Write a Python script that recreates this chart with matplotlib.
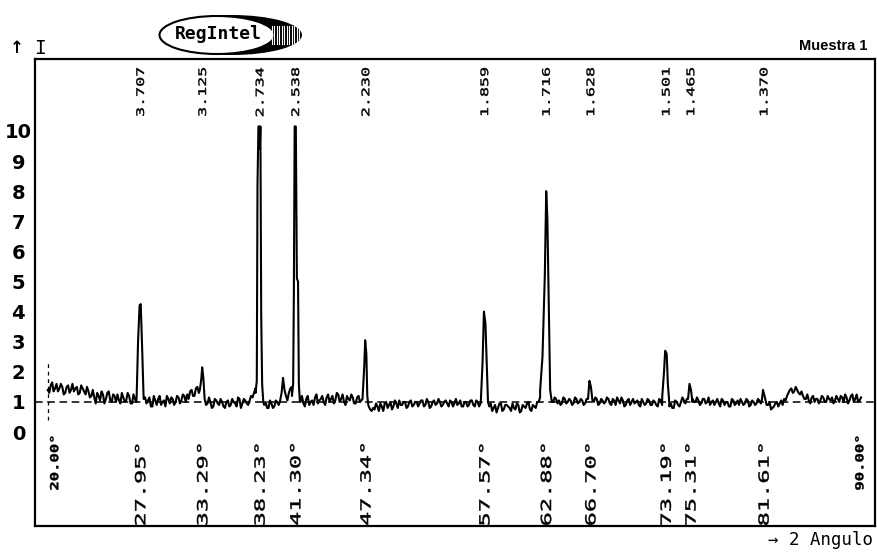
import numpy as np
import matplotlib
matplotlib.use('Agg')
import matplotlib.pyplot as plt
from matplotlib.patches import Ellipse, PathPatch
from matplotlib.textpath import TextPath
from matplotlib.font_manager import FontProperties
from matplotlib.transforms import Affine2D, ScaledTranslation

# background intensity, one value every 0.25 deg from 20 to 90
bg_start = 20.0
bg_step = 0.25
background = [
    1.40, 1.55, 1.35, 1.60, 1.45, 1.50, 1.30, 1.55, 1.40, 1.35, 1.50, 1.30, 1.45, 1.25, 1.35, 1.20,
    1.15, 1.30, 1.05, 1.25, 1.10, 1.35, 1.00, 1.20, 1.25, 0.95, 1.15, 1.05, 1.20, 0.95, 1.10, 1.20,
    1.10, 1.00, 0.95, 1.15, 0.85, 1.05, 1.10, 0.90, 1.05, 1.20, 0.95, 1.10, 1.00, 1.15, 1.05, 1.20,
    1.25, 1.35, 1.20, 1.45, 1.30, 1.55, 1.10, 0.95, 1.00, 0.85, 1.05, 0.90, 1.00, 0.80, 1.05, 0.90,
    1.00, 0.85, 1.10, 0.95, 1.05, 0.90, 1.20, 1.30, 1.50, 1.00, 1.00, 1.00, 0.80, 0.95, 0.85, 1.00,
    1.05, 1.80, 1.20, 1.30, 1.50, 1.00, 1.00, 1.00, 0.95, 1.10, 0.90, 1.05, 1.15, 0.95, 1.10, 1.00,
    1.15, 1.00, 1.20, 1.05, 1.25, 1.10, 1.00, 1.20, 1.05, 1.15, 0.95, 1.20, 1.05, 1.00, 1.00, 0.75,
    0.80, 0.95, 0.70, 0.85, 0.95, 0.80, 1.00, 0.85, 0.95, 1.05, 0.90, 1.00, 0.85, 1.05, 0.90, 1.00,
    0.95, 1.05, 0.90, 1.00, 0.85, 1.05, 0.95, 1.00, 0.90, 1.05, 0.85, 1.00, 0.95, 0.90, 1.05, 0.85,
    1.00, 0.90, 1.05, 0.85, 1.00, 0.95, 1.00, 1.00, 0.85, 0.70, 0.90, 0.80, 0.95, 0.75, 0.90, 0.80,
    0.95, 0.75, 0.90, 0.70, 0.85, 0.95, 0.75, 0.90, 0.80, 1.00, 1.20, 1.30, 1.00, 1.00, 1.00, 1.10,
    1.05, 0.95, 1.10, 1.00, 1.05, 0.95, 1.10, 1.00, 1.05, 0.95, 1.20, 1.00, 1.00, 1.10, 0.95, 1.05,
    1.00, 1.10, 0.90, 1.05, 1.15, 0.95, 1.05, 0.90, 1.10, 1.00, 0.95, 1.05, 0.85, 1.00, 0.95, 1.05,
    0.90, 1.00, 0.85, 1.05, 1.00, 1.00, 0.85, 0.80, 1.05, 0.90, 1.00, 1.05, 1.10, 1.00, 1.10, 1.00,
    1.05, 0.95, 1.10, 1.00, 0.90, 1.05, 1.00, 0.95, 1.10, 0.90, 1.00, 0.85, 1.05, 0.95, 0.90, 1.00,
    0.95, 1.05, 0.90, 1.00, 0.95, 1.05, 1.00, 1.00, 0.90, 0.75, 0.85, 1.00, 0.95, 0.90, 1.05, 1.30,
    1.45, 1.35, 1.40, 1.25, 1.20, 1.10, 1.05, 1.15, 1.00, 1.10, 1.05, 1.15, 1.00, 1.10, 1.15, 1.05,
    1.10, 1.20, 1.00, 1.15, 1.05, 1.25, 1.10, 1.00, 1.15,
]
# in-between readings (20.125, 20.375, ... 89.875) that give the noise its spikes
background_mid = [
    1.30, 1.65, 1.45, 1.35, 1.60, 1.25, 1.50, 1.30, 1.60, 1.45, 1.25, 1.55, 1.35, 1.50, 1.15, 1.40,
    0.95, 1.20, 1.35, 0.95, 1.30, 1.05, 1.25, 1.00, 1.05, 1.30, 1.00, 1.30, 0.95, 1.25, 1.00, 1.00,
    0.95, 1.15, 1.05, 0.85, 1.20, 0.90, 1.20, 1.00, 0.85, 1.10, 1.15, 0.90, 1.20, 0.95, 1.25, 1.00,
    1.10, 1.40, 1.20, 1.50, 1.30, 1.40, 0.90, 1.15, 0.80, 1.10, 0.95, 1.10, 0.85, 1.00, 0.85, 1.10,
    0.95, 1.15, 0.80, 1.10, 0.95, 1.05, 1.15, 1.45, 1.00, 1.00, 0.90, 0.80, 1.05, 0.80, 1.05, 0.90,
    1.30, 1.40, 1.05, 1.45, 1.00, 1.00, 1.00, 1.20, 0.85, 1.20, 1.00, 0.90, 1.25, 1.05, 1.20, 0.90,
    1.25, 1.10, 0.95, 1.30, 1.00, 1.25, 0.90, 1.10, 1.25, 0.95, 1.15, 1.00, 1.00, 1.00, 0.85, 0.70,
    0.75, 0.85, 0.95, 0.70, 1.00, 0.90, 0.75, 1.05, 0.80, 0.90, 1.00, 0.80, 1.00, 0.85, 1.00, 0.85,
    1.05, 0.85, 1.10, 0.80, 1.00, 0.90, 1.10, 0.85, 1.00, 0.95, 1.05, 0.85, 1.10, 0.95, 0.85, 1.00,
    0.85, 1.05, 0.90, 1.05, 0.85, 1.10, 1.00, 1.00, 0.95, 0.80, 0.65, 0.95, 0.70, 0.90, 0.85, 0.70,
    0.80, 0.95, 0.65, 0.90, 0.80, 1.00, 0.70, 0.85, 1.00, 1.15, 1.00, 1.00, 1.00, 1.00, 1.15, 0.95,
    0.90, 1.15, 0.95, 1.10, 0.90, 1.15, 0.95, 1.10, 0.90, 1.10, 1.00, 0.95, 1.15, 0.90, 1.10, 0.95,
    1.15, 0.95, 1.10, 0.90, 1.05, 1.15, 0.85, 1.05, 0.90, 1.10, 1.00, 0.90, 1.10, 0.90, 1.10, 0.90,
    1.05, 0.90, 1.10, 0.90, 1.00, 1.00, 0.95, 0.80, 1.00, 0.85, 1.15, 0.95, 1.15, 1.00, 1.00, 1.15,
    0.90, 1.10, 0.95, 1.15, 1.00, 0.90, 1.10, 0.85, 1.05, 1.00, 0.85, 1.10, 0.90, 1.05, 1.10, 0.90,
    1.10, 0.85, 1.05, 0.90, 1.10, 0.95, 1.00, 0.90, 1.00, 0.80, 0.95, 0.85, 1.05, 1.10, 1.20, 1.40,
    1.30, 1.50, 1.30, 1.35, 1.10, 1.25, 0.95, 1.20, 1.10, 0.95, 1.20, 1.00, 1.20, 1.05, 0.95, 1.20,
    1.00, 1.15, 1.25, 0.95, 1.20, 1.00, 1.25, 1.05,
]

# labelled peaks: 2-theta, d-spacing and the profile (offset in deg, intensity)
peak_angles = [27.95, 33.29, 38.23, 41.30, 47.34, 57.57, 62.88, 66.70, 73.19, 75.31, 81.61]
d_spacings = ['3.707', '3.125', '2.734', '2.538', '2.230', '1.859',
              '1.716', '1.628', '1.501', '1.465', '1.370']
peak_profiles = [
    [(-0.30, 1.20), (-0.18, 3.00), (-0.05, 4.20), (0.05, 4.25), (0.18, 2.70), (0.30, 1.10)],
    [(-0.20, 1.40), (-0.08, 1.75), (0.00, 2.15), (0.10, 1.80), (0.20, 1.20)],
    [(-0.35, 1.30), (-0.24, 1.70), (-0.18, 8.20), (-0.10, 10.15), (-0.03, 10.15), (0.02, 9.40),
     (0.07, 10.15), (0.14, 3.90), (0.22, 1.60), (0.32, 1.00)],
    [(-0.28, 1.20), (-0.18, 1.60), (-0.12, 4.60), (-0.05, 10.15), (0.05, 10.15), (0.14, 5.10),
     (0.24, 5.00), (0.31, 1.60), (0.40, 1.00)],
    [(-0.25, 1.10), (-0.10, 2.20), (-0.02, 3.05), (0.08, 2.60), (0.16, 1.20), (0.25, 0.90)],
    [(-0.30, 1.00), (-0.15, 2.30), (-0.03, 4.00), (0.10, 3.60), (0.20, 2.40), (0.32, 1.00)],
    [(-0.50, 1.40), (-0.30, 2.50), (-0.10, 5.20), (0.02, 8.00), (0.12, 7.10), (0.24, 4.20),
     (0.36, 1.40), (0.50, 1.00)],
    [(-0.20, 1.10), (-0.08, 1.70), (0.05, 1.50), (0.18, 1.05)],
    [(-0.30, 1.20), (-0.15, 2.00), (-0.05, 2.70), (0.08, 2.60), (0.18, 1.60), (0.30, 1.00)],
    [(-0.20, 1.10), (-0.08, 1.60), (0.05, 1.40), (0.18, 1.00)],
    [(-0.15, 1.05), (-0.05, 1.40), (0.08, 1.20), (0.20, 1.00)],
]
range_labels = ['20.00°', '90.00°']
range_label_pos = [20.55, 89.85]
y_ticks = list(range(11))

fig = plt.figure(figsize=(8.78, 5.52), dpi=100)
ax = fig.add_axes([35 / 878, 1 - 526 / 552, 840 / 878, 467 / 552])
ax.set_xlim(18.9, 91.2)
ax.set_ylim(-3.12, 12.39)

# build the trace: background points outside the peaks + peak profile points
angles = np.concatenate([bg_start + bg_step * np.arange(len(background)),
                         bg_start + bg_step * (np.arange(len(background_mid)) + 0.5)])
bg = np.array(background + background_mid)
keep = np.ones(len(angles), dtype=bool)
px, py = [], []
for c, prof in zip(peak_angles, peak_profiles):
    offs = [p[0] for p in prof]
    keep &= ~((angles >= c + offs[0]) & (angles <= c + offs[-1]))
    px += [c + o for o in offs]
    py += [p[1] for p in prof]
xs = np.concatenate([angles[keep], px])
ys = np.concatenate([bg[keep], py])
order = np.argsort(xs)
ax.plot(xs[order], ys[order], color='black', lw=1.5)

ax.axhline(1, color='black', lw=1.1, dashes=(5, 3))
ax.plot([20, 20], [0.4, 2.3], color='black', lw=0.9, dashes=(3, 3))

for s in ax.spines.values():
    s.set_linewidth(1.6)
    s.set_color('black')
ax.set_xticks([])

ax.set_yticks(y_ticks)
ax.set_yticklabels([str(v) for v in y_ticks],
                   fontdict=dict(family='DejaVu Sans', size=14, weight='bold'))
ax.tick_params(axis='y', length=0, pad=12)
for lbl in ax.get_yticklabels():
    lbl.set_horizontalalignment('center')


def vtext(x, y, s, size, stretch, top=True, weight='normal'):
    # vertical text read bottom-to-top, stretched along its reading direction
    tp = TextPath((0, 0), s, size=size,
                  prop=FontProperties(family='DejaVu Sans Mono', weight=weight))
    ext = tp.get_extents()
    u0 = ext.x1 if top else ext.x0
    vc = (ext.y0 + ext.y1) / 2
    k = fig.dpi / 72
    tr = (Affine2D().translate(-u0, -vc).scale(k * stretch, k).rotate_deg(90)
          + ScaledTranslation(x, y, ax.transData))
    fig.add_artist(PathPatch(tp, transform=tr, facecolor='black',
                             edgecolor='black', lw=0.3))


for a, d in zip(peak_angles, d_spacings):
    vtext(a, 12.09, d, 7.5, 1.6, top=True)
    vtext(a, -3.08, f'{a:.2f}°', 10, 1.7, top=False)
for a, s in zip(range_label_pos, range_labels):
    vtext(a, -0.15, s, 8, 1.4, top=True, weight='bold')

# overlay in pixel coordinates for the header and logo
ov = fig.add_axes([0, 0, 1, 1])
ov.set_xlim(0, 878)
ov.set_ylim(552, 0)
ov.axis('off')

shade = Ellipse((232, 35), 140, 40, facecolor='black', edgecolor='none')
ov.add_patch(shade)
for sx in np.arange(272, 302, 2.5):
    ln, = ov.plot([sx, sx], [26, 44], color='white', lw=0.8)
    ln.set_clip_path(shade)
ov.add_patch(Ellipse((217, 35), 115, 38, facecolor='white', edgecolor='black', lw=1.5))
ov.text(218, 34, 'RegIntel', family='DejaVu Sans Mono', fontsize=13, weight='bold',
        ha='center', va='center')

ov.text(17, 48, '↑', family='DejaVu Sans', fontsize=12, weight='bold', ha='center', va='center')
ov.text(40, 48, 'I', family='DejaVu Sans Mono', fontsize=14, ha='center', va='center')
ov.text(867, 46, 'Muestra 1', family='Liberation Sans', fontsize=10.5, weight='bold',
        ha='right', va='center')
ov.text(873, 540, '→ 2 Angulo', family='DejaVu Sans Mono', fontsize=12.5,
        ha='right', va='center')

fig.savefig('out.png', dpi=100)
